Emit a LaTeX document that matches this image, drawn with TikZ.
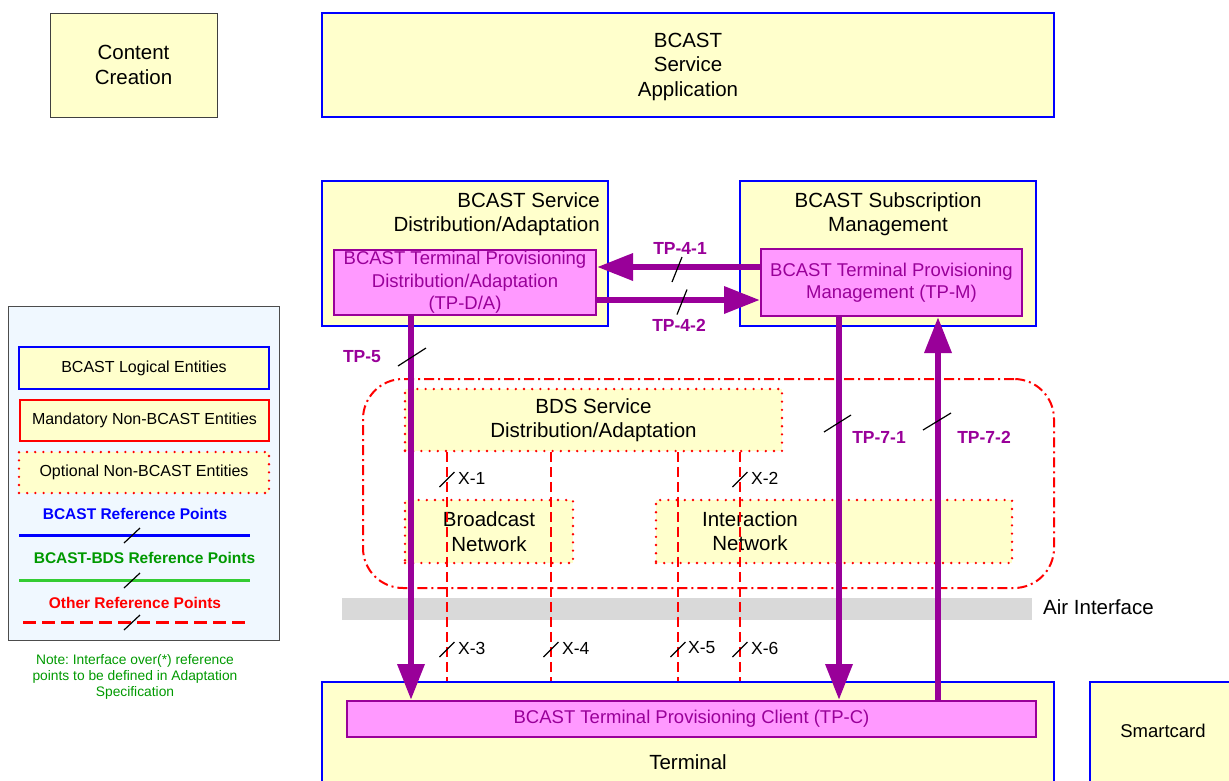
\documentclass[tikz,border=0pt]{standalone}
\usepackage{fontspec}
\setmainfont{Liberation Sans}
\usetikzlibrary{arrows.meta}
\definecolor{byellow}{HTML}{FFFFCC}
\definecolor{bblue}{HTML}{0000FF}
\definecolor{tpurple}{HTML}{990099}
\definecolor{tpink}{HTML}{FF99FF}
\definecolor{rgreen}{HTML}{009900}
\definecolor{lgreen}{HTML}{33CC33}
\definecolor{legbg}{HTML}{F0F8FF}
\definecolor{airgray}{HTML}{D9D9D9}
\newcommand\myfmain{\fontsize{20.5}{24.5}\selectfont}
\newcommand\myftp{\fontsize{18.5}{22.5}\selectfont}
\newcommand\myfleg{\fontsize{16}{19}\selectfont}
\newcommand\myfnote{\fontsize{13.8}{16}\selectfont}
\newcommand\myflab{\fontsize{17.5}{20}\selectfont}
\frenchspacing
\begin{document}
\begin{tikzpicture}[x=1pt,y=-1pt,
  ent/.style={draw=bblue, line width=2.8pt, fill=byellow, inner sep=0pt},
  plainbox/.style={draw=black!75, line width=0.8pt, fill=byellow, inner sep=0pt},
  tpbox/.style={draw=tpurple, line width=2pt, fill=tpink, inner sep=0pt, text=tpurple},
  optbox/.style={draw=red, line width=2.6pt, dash pattern=on 0pt off 8.2pt, line cap=round, fill=byellow, inner sep=0pt},
  mandbox/.style={draw=red, line width=1.5pt, fill=byellow, inner sep=0pt},
  txt/.style={inner sep=0pt, align=center},
  tparrow/.style={draw=tpurple, line width=6.5pt, -{Triangle[length=36pt,width=26pt]}},
  xline/.style={draw=red, line width=2pt, dash pattern=on 10pt off 5pt},
  tick/.style={draw=black, line width=1.2pt},
  tplab/.style={inner sep=0pt, text=tpurple, font=\myflab\bfseries},
  xlab/.style={inner sep=0pt, anchor=west, font=\myflab},
]
\clip (0,0) rectangle (1229,780);

% ---------- top ----------
\node[plainbox, minimum width=167pt, minimum height=104pt, align=center, font=\myfmain] (cc) at (133.5,65) {Content\\Creation};
\node[ent, minimum width=732pt, minimum height=104pt] (app) at (688,65) {};
\node[txt, font=\myfmain] (appt) at (688,66.5) {BCAST\\Service\\Application};

% ---------- middle BCAST entities ----------
\node[ent, minimum width=286pt, minimum height=145pt] (sda) at (465,253.5) {};
\node[txt, align=right, anchor=east, font=\myfmain] (sdat) at (600,214) {BCAST Service\\Distribution/Adaptation};
\node[tpbox, minimum width=262pt, minimum height=65pt, align=center, font=\myftp] (tpda) at (465,282.5) {BCAST Terminal Provisioning\\Distribution/Adaptation\\(TP-D/A)};

\node[ent, minimum width=296pt, minimum height=145pt] (sm) at (888,253.5) {};
\node[txt, font=\myfmain] (smt) at (888,214) {BCAST Subscription\\Management};
\node[tpbox, minimum width=261pt, minimum height=67pt, align=center, font=\myftp] (tpm) at (891.5,282.5) {BCAST Terminal Provisioning\\Management (TP-M)};

% ---------- BDS cloud ----------
\node[draw=red, line width=2pt, dash pattern=on 10pt off 4pt on 2pt off 4pt, rounded corners=40pt, minimum width=691pt, minimum height=209pt] (cloud) at (708.5,483.5) {};
\node[optbox, minimum width=377pt, minimum height=62pt, align=center, font=\myfmain] (bds) at (593.5,420) {BDS Service\\Distribution/Adaptation};
\node[optbox, minimum width=168pt, minimum height=63pt, align=center, font=\myfmain] (bn) at (489,531.5) {Broadcast\\Network};
\node[optbox, minimum width=356pt, minimum height=63pt] (inw) at (834,531.5) {};
\node[txt, font=\myfmain] (inwt) at (750,531) {Interaction\\Network};

% ---------- air interface ----------
\node[fill=airgray, minimum width=690pt, minimum height=22pt, inner sep=0pt] (air) at (687,609) {};
\node[inner sep=0pt, anchor=west, font=\myfmain] (airt) at (1043,607) {Air Interface};

% ---------- terminal ----------
\node[ent, minimum width=732pt, minimum height=118pt] (term) at (688,741) {};
\node[txt, font=\myfmain] (termt) at (688,762) {Terminal};
\node[tpbox, minimum width=689pt, minimum height=36pt, font=\myftp] (tpc) at (691.5,719) {BCAST Terminal Provisioning Client (TP-C)};
\node[ent, minimum width=150pt, minimum height=118pt] (sc) at (1165,741) {};
\node[txt, font=\myftp] (sct) at (1163,731) {Smartcard};

% ---------- X reference lines ----------
\coordinate (xa) at (447,0);
\coordinate (xb) at (551,0);
\coordinate (xc) at (678,0);
\coordinate (xd) at (740,0);
\draw[xline] (bds.south -| xa) -- (term.north -| xa);
\draw[xline] (bds.south -| xb) -- (term.north -| xb);
\draw[xline] (bds.south -| xc) -- (term.north -| xc);
\draw[xline] (bds.south -| xd) -- (term.north -| xd);
\foreach \cx/\cy in {447/479.5, 740/479.5, 447/649.5, 551/649.5, 678/649.5, 740/649.5}
  \draw[tick] (\cx,\cy) ++(-7.5,7.5) -- ++(15,-15);
\node[xlab] (x1) at (458,478) {X-1};
\node[xlab] (x2) at (751,478) {X-2};
\node[xlab] (x3) at (458,648) {X-3};
\node[xlab] (x4) at (562,648) {X-4};
\node[xlab] (x5) at (688,648) {X-5};
\node[xlab] (x6) at (751,648) {X-6};

% ---------- TP arrows ----------
\coordinate (c5) at (411,0);
\coordinate (c71) at (839,0);
\coordinate (c72) at (938,0);
\draw[tparrow] ([yshift=15.5pt]tpm.west) -- ([yshift=15.5pt]tpda.east);
\draw[tparrow] ([yshift=-17.5pt]tpda.east) -- ([yshift=-17.5pt]tpm.west);
\draw[tparrow] (tpda.south -| c5) -- (tpc.north -| c5);
\draw[tparrow] (tpm.south -| c71) -- (tpc.north -| c71);
\draw[tparrow] (tpc.north -| c72) -- (tpm.south -| c72);

\draw[tick] (677,269.5) ++(-5,12.5) -- ++(10,-25);
\draw[tick] (682,302) ++(-5,12.5) -- ++(10,-25);
\draw[tick] (412,357) ++(-14,9) -- ++(28,-18);
\draw[tick] (837.5,423.5) ++(-13.5,8.5) -- ++(27,-17);
\draw[tick] (937,421.5) ++(-14,8.5) -- ++(28,-17);

\node[tplab] (tp41) at (680,248) {TP-4-1};
\node[tplab] (tp42) at (679,325) {TP-4-2};
\node[tplab] (tp5) at (362,357) {TP-5};
\node[tplab] (tp71) at (879,437) {TP-7-1};
\node[tplab] (tp72) at (984,437) {TP-7-2};

% ---------- legend ----------
\node[draw=black!70, line width=1pt, fill=legbg, minimum width=271pt, minimum height=334pt] (leg) at (143.5,473) {};
\node[ent, minimum width=250pt, minimum height=42pt, font=\myfleg] (lent) at (144,368) {BCAST Logical Entities};
\node[mandbox, minimum width=249pt, minimum height=41pt, font=\myfleg] (lmand) at (144.5,420.5) {Mandatory Non-BCAST Entities};
\node[optbox, minimum width=250pt, minimum height=41pt, font=\myfleg] (lopt) at (144,472.5) {Optional Non-BCAST Entities};
\node[inner sep=0pt, text=bblue, font=\fontsize{15.5}{18}\selectfont\bfseries] (lbt) at (135,514) {BCAST Reference Points};
\node[inner sep=0pt, text=rgreen, font=\fontsize{15.5}{18}\selectfont\bfseries] (lgt) at (144.5,558) {BCAST-BDS Reference Points};
\node[inner sep=0pt, text=red, font=\fontsize{15.5}{18}\selectfont\bfseries] (lrt) at (135,603) {Other Reference Points};
\coordinate (lb1) at (19,535.5);
\coordinate (lb2) at (250,535.5);
\coordinate (lg1) at (19,580);
\coordinate (lg2) at (250,580);
\coordinate (lr1) at (23,622);
\coordinate (lr2) at (251,622);
\draw[bblue, line width=3pt] (lb1) -- (lb2);
\draw[lgreen, line width=3pt] (lg1) -- (lg2);
\draw[red, line width=3pt, dash pattern=on 13pt off 6pt] (lr1) -- (lr2);
\draw[tick] (132,535.5) ++(-8,7.5) -- ++(16,-15);
\draw[tick] (132,580.5) ++(-8,7.5) -- ++(16,-15);
\draw[tick] (132,622.5) ++(-8,7.5) -- ++(16,-15);
\node[txt, text=rgreen, font=\myfnote] (note) at (135,677) {Note: Interface over(*) reference\\points to be defined in Adaptation\\Specification};
\end{tikzpicture}
\end{document}
